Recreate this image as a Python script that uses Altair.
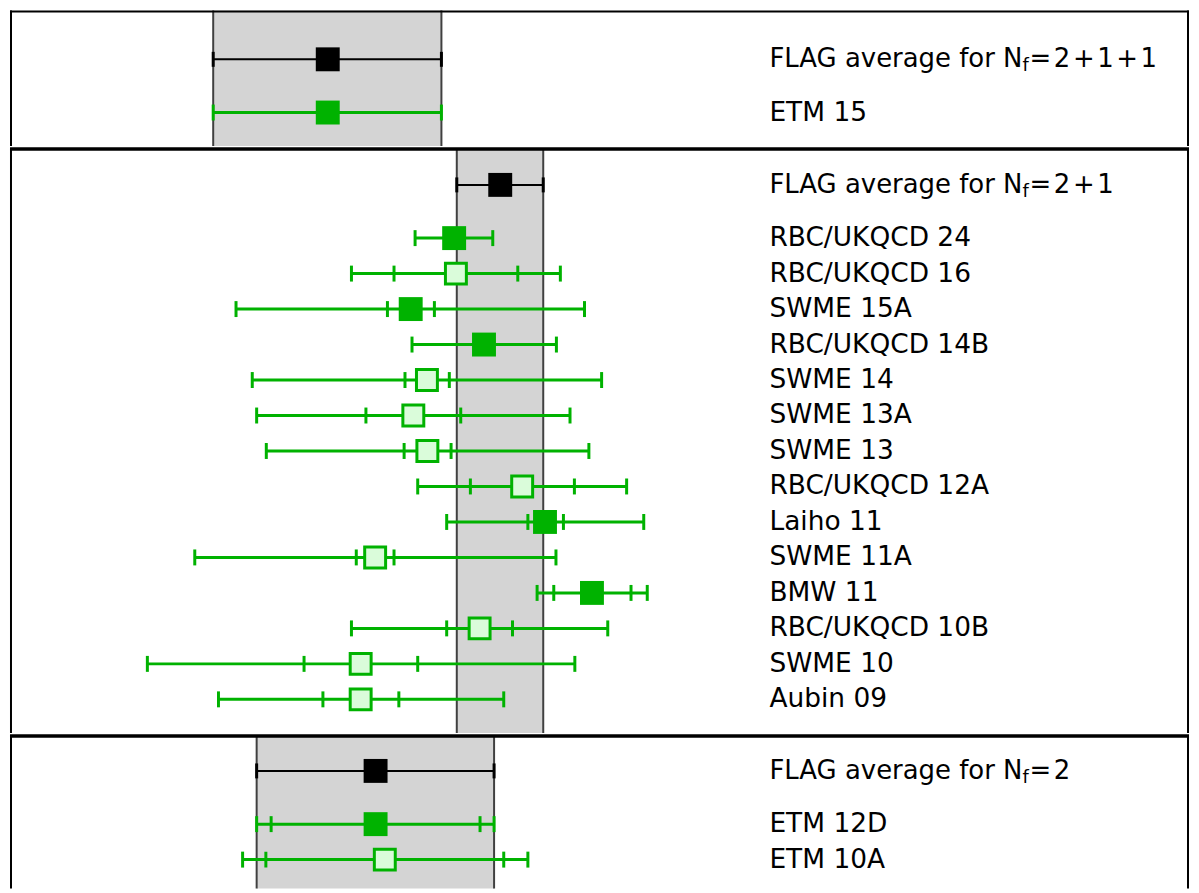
import altair as alt
import pandas as pd

# ---------------- data ----------------
# N_f = 2+1+1
p1_avg = [0.7224, 0.6963, 0.7483]          # centre, low, high
p1_names = ["ETM 15"]
p1_center = [0.7224]
p1_stat_lo = [None]
p1_stat_hi = [None]
p1_tot_lo = [0.6963]
p1_tot_hi = [0.7483]
p1_filled = [True]

# N_f = 2+1
p2_avg = [0.7617, 0.7518, 0.7715]
p2_names = ["RBC/UKQCD 24", "RBC/UKQCD 16", "SWME 15A", "RBC/UKQCD 14B", "SWME 14",
            "SWME 13A", "SWME 13", "RBC/UKQCD 12A", "Laiho 11", "SWME 11A", "BMW 11",
            "RBC/UKQCD 10B", "SWME 10", "Aubin 09"]
p2_center = [0.7512, 0.7516, 0.7413, 0.7580, 0.7450, 0.7419, 0.7451, 0.7667, 0.7719,
             0.7332, 0.7826, 0.7570, 0.7299, 0.7299]
p2_stat_lo = [None, 0.7375, 0.7360, None, 0.7400, 0.7311, 0.7398, 0.7549, 0.7680,
              0.7289, 0.7739, 0.7495, 0.7170, 0.7213]
p2_stat_hi = [None, 0.7657, 0.7467, None, 0.7501, 0.7527, 0.7505, 0.7786, 0.7761,
              0.7375, 0.7915, 0.7645, 0.7429, 0.7386]
p2_tot_lo = [0.7423, 0.7278, 0.7015, 0.7416, 0.7052, 0.7062, 0.7084, 0.7429, 0.7495,
             0.6921, 0.7701, 0.7278, 0.6813, 0.6975]
p2_tot_hi = [0.7600, 0.7754, 0.7809, 0.7745, 0.7848, 0.7776, 0.7819, 0.7905, 0.7944,
             0.7744, 0.7952, 0.7862, 0.7787, 0.7625]
p2_filled = [True, False, True, True, False, False, False, False, True, False, True,
             False, False, False]

# N_f = 2
p3_avg = [0.7333, 0.7062, 0.7603]
p3_names = ["ETM 12D", "ETM 10A"]
p3_center = [0.7333, 0.7354]
p3_stat_lo = [0.7095, 0.7083]
p3_stat_hi = [0.7571, 0.7625]
p3_tot_lo = [0.7062, 0.7030]
p3_tot_hi = [0.7603, 0.7680]
p3_filled = [True, False]

HS = "\u200a"
avg_suffixes = [HS + "=" + HS + "2" + HS + "+" + HS + "1" + HS + "+" + HS + "1",
                HS + "=" + HS + "2" + HS + "+" + HS + "1",
                HS + "=" + HS + "2"]

# ---------------- styling ----------------
W = 1183
PX_PER_UNIT = 4403.7
ROW = 35.6
GREEN = "#00b200"
LIGHT = "#dafcda"
BAND = "#d4d4d4"
EDGE = "#404040"
FONT = "DejaVu Sans"
FS = 26
FS_NAMES = 26.5
XDOM = [0.65, 0.65 + W / PX_PER_UNIT]
LABEL_X = 762
SUB_X = 1016
SUFFIX_X = 1023


def panel(avg, suffix, names, center, stat_lo, stat_hi, tot_lo, tot_hi, filled,
          height, avg_off, top_sep, first):
    ydom = [-avg_off / ROW, (height - avg_off) / ROW]
    xs = alt.Scale(domain=XDOM, nice=False, zero=False)
    ys = alt.Scale(domain=ydom, nice=False, zero=False, reverse=True)

    def X(f):
        return alt.X(f, type="quantitative", scale=xs, axis=None)

    def Y(f):
        return alt.Y(f, type="quantitative", scale=ys, axis=None)

    rows = [1.5 + i for i in range(len(names))]
    df = pd.DataFrame({"name": names, "row": rows, "c": center, "slo": stat_lo,
                       "shi": stat_hi, "tlo": tot_lo, "thi": tot_hi, "filled": filled})
    adf = pd.DataFrame({"row": [0.0], "c": [avg[0]], "lo": [avg[1]], "hi": [avg[2]],
                        "pre": ["FLAG average for N"], "sub": ["f"], "suf": [suffix]})
    edges = pd.DataFrame({"e": [avg[1], avg[2]], "row": [0.0, 0.0]})
    ticks = []
    for _, r in df.iterrows():
        for k in ("tlo", "thi", "slo", "shi"):
            if pd.notna(r[k]):
                ticks.append({"row": r["row"], "x": r[k]})
    tdf = pd.DataFrame(ticks)

    band = alt.Chart(adf).mark_rect(color=BAND).encode(
        x=X("lo"), x2="hi", y=alt.value(0), y2=alt.value(height))
    band_edges = alt.Chart(edges).mark_rule(color=EDGE, strokeWidth=2).encode(
        x=X("e"), y=alt.value(0), y2=alt.value(height))
    avg_bar = alt.Chart(adf).mark_rule(color="black", strokeWidth=2).encode(
        x=X("lo"), x2="hi", y=Y("row"))
    avg_caps = alt.Chart(edges).mark_tick(color="black", orient="vertical", size=15,
                                          thickness=3, opacity=1).encode(
        x=X("e"), y=Y("row"))
    avg_sq = alt.Chart(adf).mark_square(size=576, color="black", opacity=1).encode(
        x=X("c"), y=Y("row"))

    bars = alt.Chart(df).mark_rule(color=GREEN, strokeWidth=3).encode(
        x=X("tlo"), x2="thi", y=Y("row"))
    caps = alt.Chart(tdf).mark_tick(color=GREEN, orient="vertical", size=16,
                                    thickness=3, opacity=1).encode(
        x=X("x"), y=Y("row"))
    sq_f = alt.Chart(df).transform_filter("datum.filled").mark_square(
        size=576, color=GREEN, opacity=1).encode(x=X("c"), y=Y("row"))
    sq_o = alt.Chart(df).transform_filter("!datum.filled").mark_square(
        size=441, fill=LIGHT, stroke=GREEN, strokeWidth=3, opacity=1, filled=True).encode(
        x=X("c"), y=Y("row"))

    labels = alt.Chart(df).mark_text(font=FONT, fontSize=FS_NAMES, align="left",
                                     baseline="middle", color="black").encode(
        x=alt.value(LABEL_X), y=Y("row"), text="name")
    pre = alt.Chart(adf).mark_text(font=FONT, fontSize=FS, align="left",
                                   baseline="middle", color="black").encode(
        x=alt.value(LABEL_X), y=Y("row"), text="pre")
    sub = alt.Chart(adf).mark_text(font=FONT, fontSize=18, align="left",
                                   baseline="middle", color="black", dy=7).encode(
        x=alt.value(SUB_X), y=Y("row"), text="sub")
    suf = alt.Chart(adf).mark_text(font=FONT, fontSize=FS, align="left",
                                   baseline="middle", color="black").encode(
        x=alt.value(SUFFIX_X), y=Y("row"), text="suf")

    left = alt.Chart(adf).mark_rule(color="black", strokeWidth=2).encode(
        x=alt.value(1), y=alt.value(0), y2=alt.value(height))
    right = alt.Chart(adf).mark_rule(color="black", strokeWidth=2).encode(
        x=alt.value(W - 1), y=alt.value(0), y2=alt.value(height))
    top = alt.Chart(adf).mark_rule(color="black", strokeWidth=top_sep).encode(
        x=alt.value(0), x2=alt.value(W), y=alt.value(1 if first else 0))

    return alt.layer(band, band_edges, avg_bar, avg_caps, bars, caps, sq_f, sq_o, avg_sq,
                     labels, pre, sub, suf, left, right, top).properties(
        width=W, height=height)


c1 = panel(p1_avg, avg_suffixes[0], p1_names, p1_center, p1_stat_lo, p1_stat_hi,
           p1_tot_lo, p1_tot_hi, p1_filled, 136, 49, 2, True)
c2 = panel(p2_avg, avg_suffixes[1], p2_names, p2_center, p2_stat_lo, p2_stat_hi,
           p2_tot_lo, p2_tot_hi, p2_filled, 586, 36, 3.5, False)
c3 = panel(p3_avg, avg_suffixes[2], p3_names, p3_center, p3_stat_lo, p3_stat_hi,
           p3_tot_lo, p3_tot_hi, p3_filled, 153, 35, 3.5, False)

chart = alt.vconcat(c1, c2, c3, spacing=0).properties(padding=0).configure_view(
    stroke=None).configure_concat(spacing=0)

chart.save("out.html", embed_options={"renderer": "svg", "actions": False})
